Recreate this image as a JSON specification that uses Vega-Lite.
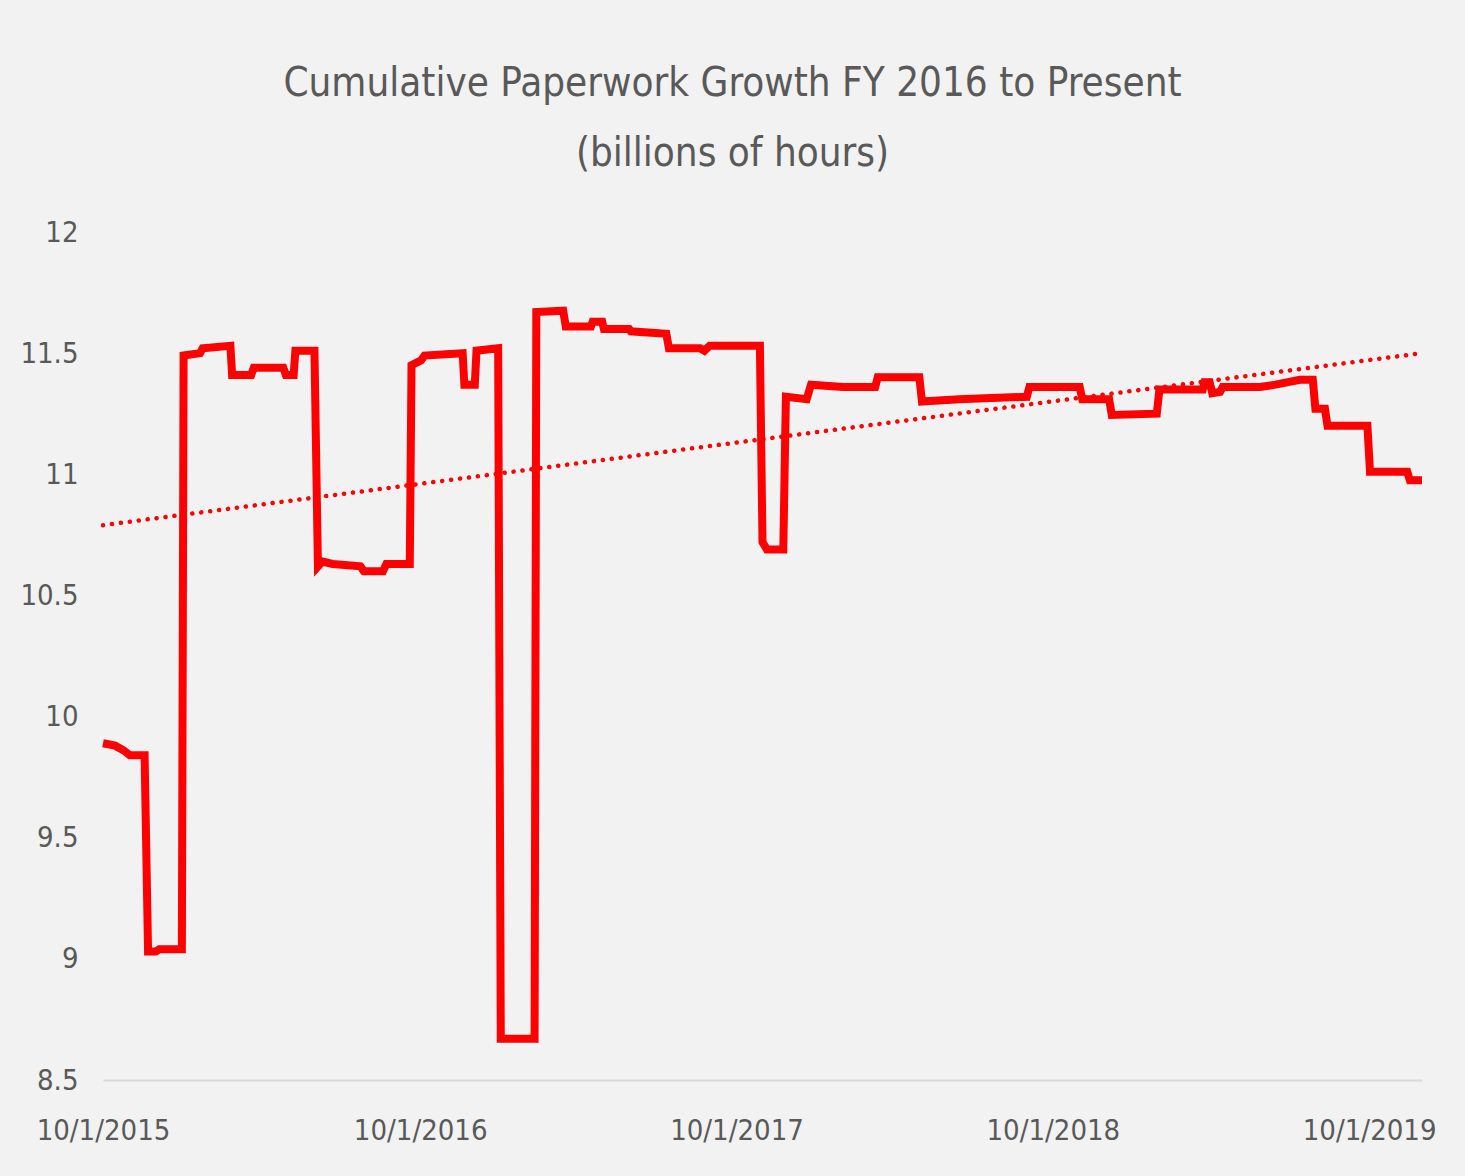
{
  "$schema": "https://vega.github.io/schema/vega-lite/v6.json",
  "width": 1319,
  "height": 848,
  "autosize": {"type": "none"},
  "padding": {"left": 103, "top": 232, "right": 43, "bottom": 96},
  "background": "#f2f2f2",
  "title": {
    "text": ["Cumulative Paperwork Growth FY 2016 to Present", "(billions of hours)"],
    "font": "Liberation Sans Narrow, DejaVu Sans Condensed, Open Sans",
    "fontSize": 40,
    "fontWeight": "normal",
    "color": "#595959",
    "lineHeight": 70,
    "anchor": "middle",
    "dx": -30,
    "offset": 44
  },
  "config": {
    "view": {"stroke": null},
    "axis": {
      "labelFont": "Liberation Sans Narrow, DejaVu Sans Condensed, Open Sans",
      "labelColor": "#595959",
      "labelFontSize": 29,
      "grid": false,
      "ticks": false,
      "title": null
    }
  },
  "datasets": {
    "series": [
      {"date": "2015-10-01", "hours": 9.89},
      {"date": "2015-10-15", "hours": 9.88},
      {"date": "2015-10-25", "hours": 9.86},
      {"date": "2015-11-01", "hours": 9.84},
      {"date": "2015-11-18", "hours": 9.84},
      {"date": "2015-11-22", "hours": 9.03},
      {"date": "2015-12-01", "hours": 9.03},
      {"date": "2015-12-05", "hours": 9.04},
      {"date": "2015-12-31", "hours": 9.04},
      {"date": "2016-01-02", "hours": 11.49},
      {"date": "2016-01-21", "hours": 11.5},
      {"date": "2016-01-24", "hours": 11.52},
      {"date": "2016-02-25", "hours": 11.53},
      {"date": "2016-02-27", "hours": 11.41},
      {"date": "2016-03-20", "hours": 11.41},
      {"date": "2016-03-23", "hours": 11.44},
      {"date": "2016-04-26", "hours": 11.44},
      {"date": "2016-04-29", "hours": 11.41},
      {"date": "2016-05-08", "hours": 11.41},
      {"date": "2016-05-10", "hours": 11.51},
      {"date": "2016-06-01", "hours": 11.51},
      {"date": "2016-06-05", "hours": 10.62},
      {"date": "2016-06-10", "hours": 10.64},
      {"date": "2016-06-22", "hours": 10.63},
      {"date": "2016-07-24", "hours": 10.62},
      {"date": "2016-07-28", "hours": 10.6},
      {"date": "2016-08-19", "hours": 10.6},
      {"date": "2016-08-23", "hours": 10.63},
      {"date": "2016-09-19", "hours": 10.63},
      {"date": "2016-09-21", "hours": 11.45},
      {"date": "2016-10-02", "hours": 11.47},
      {"date": "2016-10-06", "hours": 11.49},
      {"date": "2016-11-19", "hours": 11.5},
      {"date": "2016-11-21", "hours": 11.37},
      {"date": "2016-12-03", "hours": 11.37},
      {"date": "2016-12-05", "hours": 11.51},
      {"date": "2016-12-30", "hours": 11.52},
      {"date": "2017-01-02", "hours": 8.67},
      {"date": "2017-02-10", "hours": 8.67},
      {"date": "2017-02-12", "hours": 11.67},
      {"date": "2017-03-15", "hours": 11.675},
      {"date": "2017-03-18", "hours": 11.61},
      {"date": "2017-04-16", "hours": 11.61},
      {"date": "2017-04-18", "hours": 11.63},
      {"date": "2017-04-29", "hours": 11.63},
      {"date": "2017-05-01", "hours": 11.6},
      {"date": "2017-05-30", "hours": 11.6},
      {"date": "2017-06-01", "hours": 11.59},
      {"date": "2017-07-12", "hours": 11.58},
      {"date": "2017-07-15", "hours": 11.52},
      {"date": "2017-08-20", "hours": 11.52},
      {"date": "2017-08-25", "hours": 11.51},
      {"date": "2017-08-31", "hours": 11.53},
      {"date": "2017-10-28", "hours": 11.53},
      {"date": "2017-10-31", "hours": 10.72},
      {"date": "2017-11-05", "hours": 10.69},
      {"date": "2017-11-24", "hours": 10.69},
      {"date": "2017-11-27", "hours": 11.32},
      {"date": "2017-12-21", "hours": 11.31},
      {"date": "2017-12-26", "hours": 11.37},
      {"date": "2018-02-01", "hours": 11.36},
      {"date": "2018-03-10", "hours": 11.36},
      {"date": "2018-03-13", "hours": 11.4},
      {"date": "2018-04-30", "hours": 11.4},
      {"date": "2018-05-03", "hours": 11.3},
      {"date": "2018-06-15", "hours": 11.31},
      {"date": "2018-09-01", "hours": 11.32},
      {"date": "2018-09-04", "hours": 11.36},
      {"date": "2018-11-01", "hours": 11.36},
      {"date": "2018-11-04", "hours": 11.31},
      {"date": "2018-12-05", "hours": 11.31},
      {"date": "2018-12-08", "hours": 11.245},
      {"date": "2019-01-29", "hours": 11.25},
      {"date": "2019-02-01", "hours": 11.35},
      {"date": "2019-03-23", "hours": 11.35},
      {"date": "2019-03-25", "hours": 11.38},
      {"date": "2019-03-31", "hours": 11.38},
      {"date": "2019-04-03", "hours": 11.335},
      {"date": "2019-04-12", "hours": 11.34},
      {"date": "2019-04-15", "hours": 11.36},
      {"date": "2019-05-28", "hours": 11.36},
      {"date": "2019-06-15", "hours": 11.37},
      {"date": "2019-07-13", "hours": 11.39},
      {"date": "2019-07-28", "hours": 11.39},
      {"date": "2019-07-31", "hours": 11.27},
      {"date": "2019-08-11", "hours": 11.27},
      {"date": "2019-08-14", "hours": 11.2},
      {"date": "2019-09-29", "hours": 11.2},
      {"date": "2019-10-02", "hours": 11.01},
      {"date": "2019-11-14", "hours": 11.01},
      {"date": "2019-11-17", "hours": 10.975},
      {"date": "2019-12-01", "hours": 10.975}
    ],
    "trend": [
      {"date": "2015-10-01", "hours": 10.79},
      {"date": "2019-12-01", "hours": 11.5}
    ]
  },
  "layer": [
    {
      "data": {"name": "trend"},
      "mark": {"type": "line", "color": "#ff0000", "strokeWidth": 4.5, "strokeDash": [0.1, 8.9], "strokeCap": "round"},
      "encoding": {
        "x": {"field": "date", "type": "temporal"},
        "y": {"field": "hours", "type": "quantitative"}
      }
    },
    {
      "data": {"name": "series"},
      "mark": {"type": "line", "color": "#ff0000", "strokeWidth": 8, "strokeJoin": "miter"},
      "encoding": {
        "x": {
          "field": "date",
          "type": "temporal",
          "scale": {"type": "utc", "domain": [{"year": 2015, "month": 10, "date": 1, "utc": true}, {"year": 2019, "month": 12, "date": 1, "utc": true}], "nice": false},
          "axis": {
            "values": [
              {"year": 2015, "month": 10, "date": 1, "utc": true},
              {"year": 2016, "month": 10, "date": 1, "utc": true},
              {"year": 2017, "month": 10, "date": 1, "utc": true},
              {"year": 2018, "month": 10, "date": 1, "utc": true},
              {"year": 2019, "month": 10, "date": 1, "utc": true}
            ],
            "format": "%-m/%-d/%Y",
            "labelOverlap": false,
            "labelFlush": false,
            "labelPadding": 36,
            "domainColor": "#d9d9d9",
            "domainWidth": 2
          }
        },
        "y": {
          "field": "hours",
          "type": "quantitative",
          "scale": {"domain": [8.5, 12], "nice": false, "zero": false},
          "axis": {
            "values": [8.5, 9, 9.5, 10, 10.5, 11, 11.5, 12],
            "format": "~g",
            "domain": false,
            "labelPadding": 25
          }
        }
      }
    }
  ]
}
